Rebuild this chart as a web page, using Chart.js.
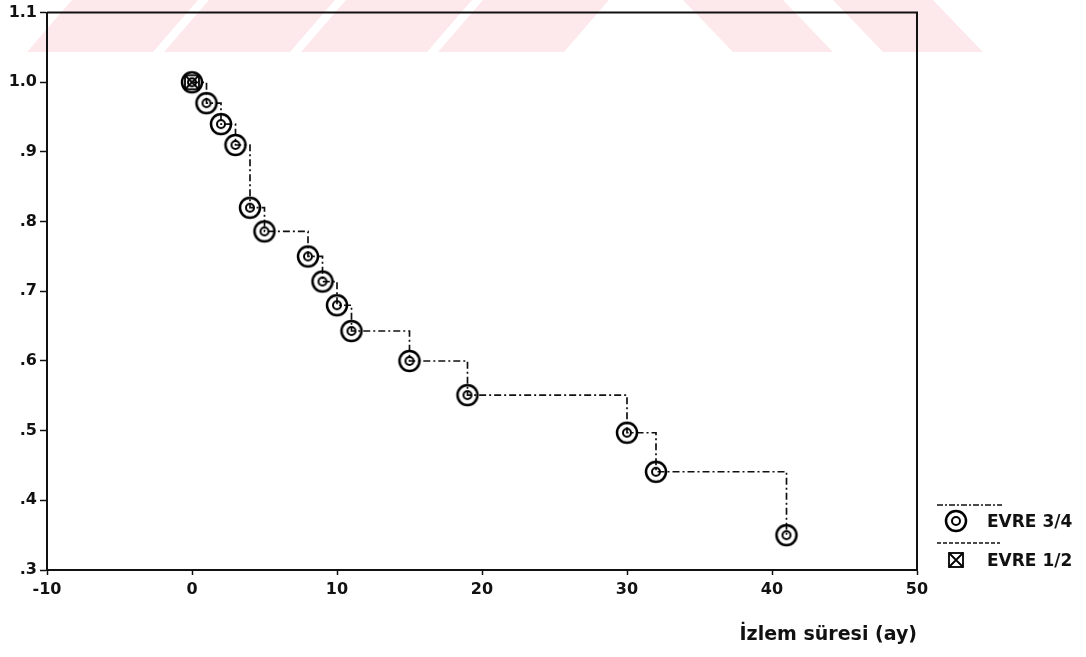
<!DOCTYPE html>
<html>
<head>
<meta charset="utf-8">
<script src="https://cdn.jsdelivr.net/npm/chart.js@4/dist/chart.umd.min.js"></script>
<style>
  html, body { margin: 0; padding: 0; background: #fff; }
</style>
</head>
<body>
<canvas id="kmChart" width="1086" height="657"></canvas>
<script>
// Kaplan-Meier survival curve
const timesLate = [0, 1, 2, 3, 4, 5, 8, 9, 10, 11, 15, 19, 30, 32, 41];
const survLate = [1.0, 0.97, 0.94, 0.91, 0.82, 0.786, 0.75, 0.714, 0.68, 0.643, 0.60, 0.551, 0.497, 0.441, 0.35];
const timesEarly = [0];
const survEarly = [1.0];
const seriesNames = ['EVRE 3/4', 'EVRE 1/2'];
const xTicks = [-10, 0, 10, 20, 30, 40, 50];
const yTicks = [0.3, 0.4, 0.5, 0.6, 0.7, 0.8, 0.9, 1.0, 1.1];
const xTitle = 'İzlem süresi (ay)';

const INK = '#111';
const tickFont = { family: "'DejaVu Sans'", weight: 'bold', size: 16 };

// marker: double circle (censor mark)
function ringMarker() {
  const c = document.createElement('canvas');
  c.width = 26; c.height = 26;
  const g = c.getContext('2d');
  g.strokeStyle = '#000';
  g.lineWidth = 2.5;
  g.beginPath(); g.arc(13, 13, 10, 0, Math.PI * 2); g.stroke();
  g.lineWidth = 2;
  g.beginPath(); g.arc(13, 13, 4, 0, Math.PI * 2); g.stroke();
  return c;
}
// marker: square with a cross
function boxMarker() {
  const c = document.createElement('canvas');
  c.width = 18; c.height = 18;
  const g = c.getContext('2d');
  g.strokeStyle = '#000';
  g.lineWidth = 1.8;
  g.strokeRect(2, 2, 14, 14);
  g.beginPath();
  g.moveTo(2, 2); g.lineTo(16, 16);
  g.moveTo(16, 2); g.lineTo(2, 16);
  g.stroke();
  return c;
}
const ring = ringMarker();
const box = boxMarker();

//pink diagonal watermark band at the top of the scan
const watermark = {
  id: 'watermark',
  beforeDraw(chart) {
    const g = chart.ctx;
    g.save();
    g.fillStyle = '#fde8ec';
    const h = 52;
    // "/" stripes on the left
    for (let b = 27; b < 560; b += 137) {
      const w = Math.min(126, 590 - b);
      g.beginPath();
      g.moveTo(b, h); g.lineTo(b + w, h);
      g.lineTo(b + w + 45, 0); g.lineTo(b + 45, 0);
      g.closePath(); g.fill();
    }
    // "\" stripes on the right
    for (let t = 683; t < 960; t += 150) {
      g.beginPath();
      g.moveTo(t, 0); g.lineTo(t + 100, 0);
      g.lineTo(t + 150, h); g.lineTo(t + 50, h);
      g.closePath(); g.fill();
    }
    g.restore();
  }
};

// closes the plot frame (top + right) and draws the legend block
const frameAndLegend = {
  id: 'frameAndLegend',
  afterDraw(chart) {
    const g = chart.ctx;
    const a = chart.chartArea;
    g.save();
    g.strokeStyle = INK;
    g.lineWidth = 2;
    g.beginPath();
    g.moveTo(a.left, a.top); g.lineTo(a.right, a.top); g.lineTo(a.right, a.bottom);
    g.stroke();

    g.lineWidth = 1.3;
    g.setLineDash([6, 2, 2, 2]);
    g.beginPath(); g.moveTo(937, 505); g.lineTo(1002, 505); g.stroke();
    g.setLineDash([4, 2]);
    g.beginPath(); g.moveTo(937, 543); g.lineTo(1000, 543); g.stroke();
    g.setLineDash([]);
    g.drawImage(ring, 956 - 13, 521 - 13);
    g.drawImage(box, 956 - 9, 560 - 9);

    g.fillStyle = INK;
    g.font = "bold 17px 'DejaVu Sans'";
    g.textAlign = 'left';
    g.textBaseline = 'middle';
    g.fillText(seriesNames[0], 987, 523);
    g.fillText(seriesNames[1], 987, 562);
    g.restore();
  }
};

const kmCtx = document.getElementById('kmChart').getContext('2d');
new Chart(kmCtx, {
  type: 'scatter',
  data: {
    datasets: [
      {
        label: seriesNames[0],
        data: timesLate.map((t, i) => ({ x: t, y: survLate[i] })),
        showLine: true,
        stepped: true,
        borderColor: INK,
        borderWidth: 1.7,
        borderDash: [7, 3, 2, 3],
        pointStyle: ring,
        backgroundColor: 'transparent'
      },
      {
        label: seriesNames[1],
        data: timesEarly.map((t, i) => ({ x: t, y: survEarly[i] })),
        showLine: false,
        pointStyle: box
      }
    ]
  },
  options: {
    responsive: false,
    animation: false,
    layout: { padding: { top: 10, right: 169, bottom: 0, left: 0 } },
    plugins: {
      legend: { display: false },
      tooltip: { enabled: false }
    },
    scales: {
      x: {
        type: 'linear',
        min: xTicks[0],
        max: xTicks[xTicks.length - 1],
        afterBuildTicks: s => { s.ticks = xTicks.map(v => ({ value: v })); },
        afterFit: s => { s.height = 87; },
        border: { display: true, color: INK, width: 2 },
        grid: { drawOnChartArea: false, tickLength: 5, color: INK, tickWidth: 1.5 },
        ticks: { color: INK, font: tickFont, padding: 5, maxRotation: 0 },
        title: {
          display: true,
          text: xTitle,
          align: 'end',
          color: INK,
          font: { family: "'DejaVu Sans'", weight: 'bold', size: 19 },
          padding: { top: 0, bottom: 11 }
        }
      },
      y: {
        min: yTicks[0],
        max: yTicks[yTicks.length - 1],
        afterBuildTicks: s => { s.ticks = yTicks.map(v => ({ value: v })); },
        afterFit: s => { s.width = 47; },
        border: { display: true, color: INK, width: 2 },
        grid: { drawOnChartArea: false, tickLength: 7, color: INK, tickWidth: 1.5 },
        ticks: {
          color: INK,
          font: tickFont,
          padding: 3,
          callback: v => v.toFixed(1).replace(/^0/, '')
        }
      }
    }
  },
  plugins: [watermark, frameAndLegend]
});
</script>
</body>
</html>
